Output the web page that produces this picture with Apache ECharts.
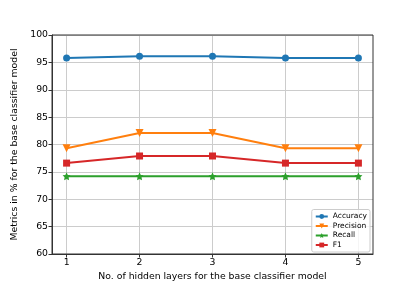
<!DOCTYPE html>
<html><head><meta charset="utf-8">
<script src="https://cdn.jsdelivr.net/npm/echarts@6/dist/echarts.min.js"></script>
<style>html,body{margin:0;padding:0;background:#fff}#c{width:415px;height:291px}</style>
</head><body><div id="c"></div>
<script>
const layers = [1, 2, 3, 4, 5];
const accuracy = [95.8, 96.1, 96.1, 95.8, 95.8];
const precision = [79.3, 82.1, 82.1, 79.3, 79.3];
const recall = [74.2, 74.2, 74.2, 74.2, 74.2];
const f1 = [76.6, 77.9, 77.9, 76.6, 76.6];
const yTicks = [60, 65, 70, 75, 80, 85, 90, 95, 100];
const names = ['Accuracy', 'Precision', 'Recall', 'F1'];
const colors = ['#1f77b4', '#ff7f0e', '#2ca02c', '#d62728'];
const symbols = ['circle', 'triangle', 'path://M0,-10 L2.9,-4 9.5,-3.1 4.8,1.5 5.9,8.1 0,5 -5.9,8.1 -4.8,1.5 -9.5,-3.1 -2.9,-4 Z', 'rect'];
const sizes = [7, 8, 8, 7];
const rotates = [0, 180, 0, 0];
const all = [accuracy, precision, recall, f1];
const font = 'DejaVu Sans';
const chart = echarts.init(document.getElementById('c'));
chart.setOption({
  animation: false,
  grid: {left: 52, right: 42, top: 35, bottom: 37},
  legend: {
    right: 45, bottom: 39, orient: 'vertical',
    data: names, itemWidth: 12, itemHeight: 6, itemGap: 1.5,
    textStyle: {fontFamily: font, fontSize: 7.5, color: '#000'},
    borderColor: '#ccc', borderWidth: 1, borderRadius: 2, padding: [3, 3, 3, 3],
    backgroundColor: 'rgba(255,255,255,0.8)'
  },
  xAxis: {
    type: 'value', min: 0.8, max: 5.2,
    name: 'No. of hidden layers for the base classifier model',
    nameLocation: 'middle', nameGap: 14,
    nameTextStyle: {fontFamily: font, fontSize: 9.3, color: '#000'},
    axisLine: {onZero: false, lineStyle: {color: '#333', width: 1}},
    axisTick: {show: true, length: 3.5, lineStyle: {color: '#333'}, customValues: layers},
    axisLabel: {fontFamily: font, fontSize: 9.3, color: '#000', margin: 4, customValues: layers},
    splitLine: {show: true, lineStyle: {color: '#ccc', width: 1}}
  },
  yAxis: {
    type: 'value', min: 60, max: 100, interval: 5,
    name: 'Metrics in % for the base classifier model',
    nameLocation: 'middle', nameGap: 28,
    nameTextStyle: {fontFamily: font, fontSize: 9.3, color: '#000'},
    axisLine: {show: true, lineStyle: {color: '#333', width: 1}},
    axisTick: {show: true, length: 3.5, lineStyle: {color: '#333'}},
    axisLabel: {fontFamily: font, fontSize: 9.3, color: '#000', margin: 4},
    splitLine: {show: true, lineStyle: {color: '#ccc', width: 1}}
  },
  series: all.map((arr, i) => ({
    name: names[i], type: 'line',
    data: layers.map((x, j) => [x, arr[j]]),
    symbol: symbols[i], symbolSize: sizes[i], symbolRotate: rotates[i],
    showAllSymbol: true,
    itemStyle: {color: colors[i], borderWidth: 0},
    lineStyle: {color: colors[i], width: 2}
  }))
});
chart.setOption({graphic: [{type: 'rect', shape: {x: 52, y: 35, width: 321, height: 219}, style: {fill: 'none', stroke: '#333', lineWidth: 1}, silent: true, z: 0}]});
</script></body></html>
